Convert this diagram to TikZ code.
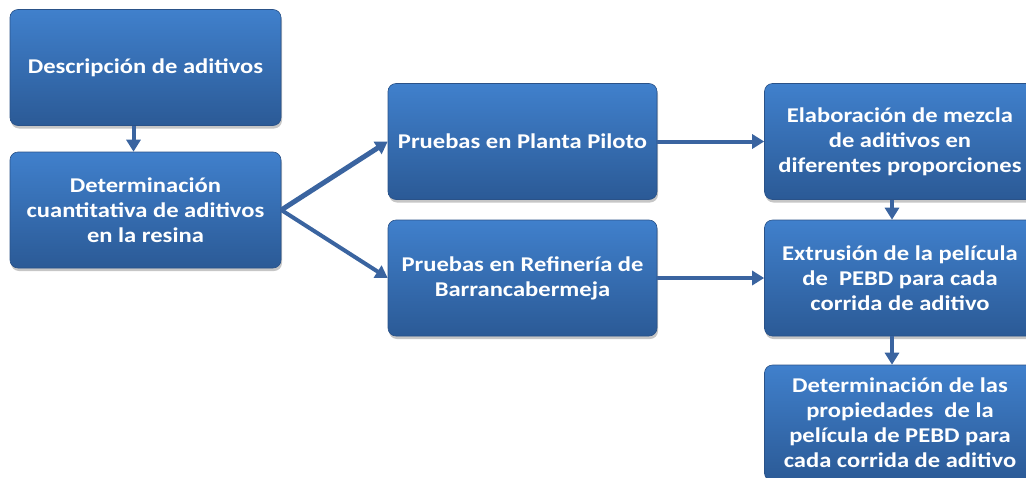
\documentclass[tikz,border=0pt]{standalone}
\usepackage{fontspec}
\setmainfont{Carlito}[FakeStretch=1.17]
\usepackage{xcolor}
\usetikzlibrary{arrows.meta,shadows}

\definecolor{boxtop}{HTML}{4080CC}
\definecolor{boxbot}{HTML}{2B5A96}
\definecolor{boxedge}{HTML}{2A5288}
\definecolor{flecha}{HTML}{3A64A0}

\tikzset{
  paso/.style={rounded corners=8pt, top color=boxtop, bottom color=boxbot,
    draw=boxedge, line width=0.6pt, text=white, align=center,
    font=\fontsize{21}{25}\selectfont\bfseries,
    minimum width=271pt, minimum height=116pt, inner sep=2pt,
    drop shadow={shadow xshift=1pt, shadow yshift=-3pt, opacity=0.45}},
  flujo/.style={flecha, line width=4pt, -{Triangle[length=12pt,width=14pt]}}
}

\begin{document}
\begin{tikzpicture}[x=1pt,y=-1pt]
\useasboundingbox (0,0) rectangle (1026,477);

\node[paso] (desc) at (145.5,67.5) {Descripción de aditivos};
\node[paso] (cuant) at (145.5,210) {Determinación\\cuantitativa de aditivos\\en la resina};

\node[paso, minimum width=269pt] (piloto) at (522.5,141.5) {Pruebas en Planta Piloto};
\node[paso, minimum width=269pt] (refin) at (522.5,278) {Pruebas en Refinería de\\Barrancabermeja};

\node[paso] (mezcla) at (900,141.5) {Elaboración de mezcla\\de aditivos en\\diferentes proporciones};
\node[paso] (extru) at (900,278) {Extrusión de la película\\de\ \ PEBD para cada\\corrida de aditivo};
\node[paso] (props) at (900,423) {Determinación de las\\propiedades\ \ de la\\película de PEBD para\\cada corrida de aditivo};

\draw[flujo] ([xshift=-12pt]desc.south) -- ([xshift=-12pt]cuant.north);
\draw[flujo, line width=5pt] (cuant.east) -- (piloto.west);
\draw[flujo] (cuant.east) -- (refin.west);
\draw[flujo] (piloto.east) -- (mezcla.west);
\draw[flujo] (refin.east) -- (extru.west);
\draw[flujo] ([xshift=-8pt]mezcla.south) -- ([xshift=-8pt]extru.north);
\draw[flujo] ([xshift=-8pt]extru.south) -- ([xshift=-8pt]props.north);

\end{tikzpicture}
\end{document}
